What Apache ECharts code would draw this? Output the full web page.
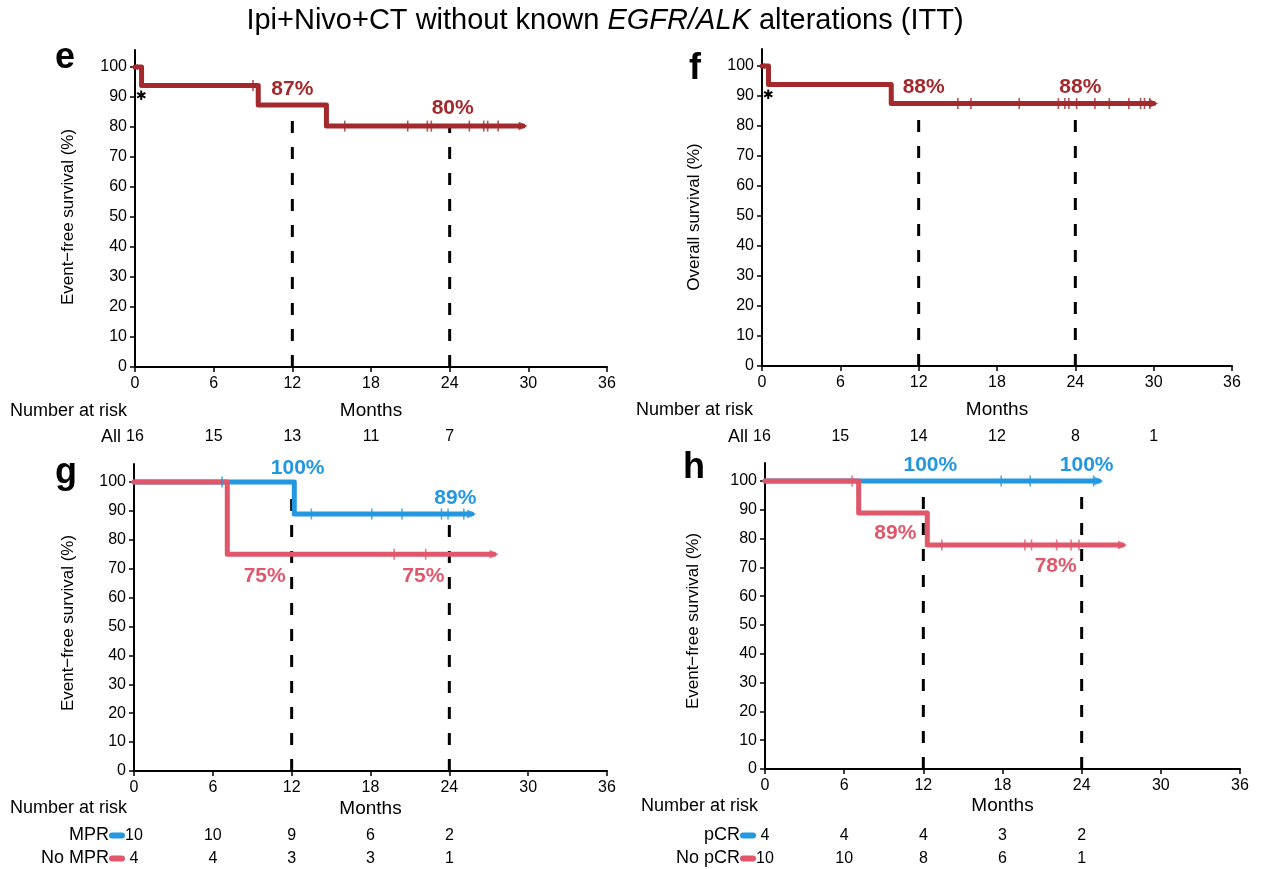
<!DOCTYPE html>
<html><head><meta charset="utf-8">
<script src="https://cdn.jsdelivr.net/npm/echarts@6/dist/echarts.min.js"></script>
<style>html,body{margin:0;padding:0;background:#fff}#c{width:1263px;height:869px}</style>
</head><body><div id="c"></div>
<script>
// ---------------- data ----------------
const monthTicks = [0, 6, 12, 18, 24, 30, 36];
const survTicks = [0, 10, 20, 30, 40, 50, 60, 70, 80, 90, 100];
const landmarks = [12, 24];

// e: EFS, all patients
const efsAllTimes = [0, 0.5, 9.4, 14.6, 29.6];
const efsAllSurv = [100, 93.8, 87.3, 80.3, 80.3];
const efsAllCensor = [9.0, 16.0, 20.8, 22.3, 22.6, 25.5, 26.6, 26.9, 27.7];
// f: OS, all patients
const osAllTimes = [0, 0.5, 9.9, 30.0];
const osAllSurv = [100, 93.8, 87.5, 87.5];
const osAllCensor = [15.0, 16.0, 19.7, 22.7, 23.2, 23.5, 24.1, 25.5, 26.6, 28.1, 29.0, 29.3, 29.7];
// g: EFS by MPR
const mprTimes = [0, 12.2, 25.7];
const mprSurv = [100, 88.9, 88.9];
const mprCensor = [6.7, 13.5, 18.1, 20.4, 23.4, 23.9, 25.1];
const noMprTimes = [0, 7.1, 27.4];
const noMprSurv = [100, 75, 75];
const noMprCensor = [19.8, 22.2];
// h: EFS by pCR
const pcrTimes = [0, 25.3];
const pcrSurv = [100, 100];
const pcrCensor = [17.9, 20.1, 24.9];
const noPcrTimes = [0, 7.1, 12.3, 27.1];
const noPcrSurv = [100, 88.9, 77.8, 77.8];
const noPcrCensor = [6.6, 13.4, 19.7, 20.2, 22.1, 23.2, 23.8];

// landmark percentage labels (at 12 and 24 months)
const pctEfsAll = ['87%', '80%'];
const pctOsAll = ['88%', '88%'];
const pctMpr = ['100%', '89%'];
const pctNoMpr = ['75%', '75%'];
const pctPcr = ['100%', '100%'];
const pctNoPcr = ['89%', '78%'];

// numbers at risk
const riskMonths = [0, 6, 12, 18, 24, 30];
const riskAllEfs = [16, 15, 13, 11, 7];
const riskAllOs = [16, 15, 14, 12, 8, 1];
const riskMpr = [10, 10, 9, 6, 2];
const riskNoMpr = [4, 4, 3, 3, 1];
const riskPcr = [4, 4, 4, 3, 2];
const riskNoPcr = [10, 10, 8, 6, 1];

// first-event asterisk mark
const asteriskPoint = [0.5, 90];

// ---------------- styling / layout ----------------
const F = '"Liberation Sans", Arial, Helvetica, sans-serif';
const C_DARK = '#a3292c', C_BLUE = '#2398e0', C_PINK = '#e0566b';

function stepAt(times, surv, t) {
  let v = surv[0];
  for (let i = 0; i < times.length; i++) if (times[i] <= t) v = surv[i];
  return v;
}

const panels = [
  { letter: 'e', letterPos: [55, 58], grid: { left: 135, top: 50, width: 472, height: 317 }, ymax: 105.67, nameGap: 34,
    riskGrid: { left: 135, top: 426, width: 472, height: 22 }, narPos: [10, 411],
    yname: 'Event\u2212free survival (%)', ynamePos: [68, 217], dashTops: [84, 80.3], asterisk: true, startMark: true,
    curves: [{ times: efsAllTimes, surv: efsAllSurv, censor: efsAllCensor, color: C_DARK, pct: pctEfsAll, off: [[0, -16], [3, -18]] }],
    risk: [{ name: 'All', values: riskAllEfs }] },
  { letter: 'f', letterPos: [689, 69], grid: { left: 762, top: 49, width: 470, height: 317 }, ymax: 105.67, nameGap: 34,
    riskGrid: { left: 762, top: 426, width: 470, height: 22 }, narPos: [636, 410],
    yname: 'Overall survival (%)', ynamePos: [694, 217], dashTops: [83.5, 83.5], asterisk: true, startMark: true,
    curves: [{ times: osAllTimes, surv: osAllSurv, censor: osAllCensor, color: C_DARK, pct: pctOsAll, off: [[5, -16], [5, -16]] }],
    risk: [{ name: 'All', values: riskAllOs }] },
  { letter: 'g', letterPos: [55, 473], grid: { left: 134, top: 464, width: 473, height: 307 }, ymax: 106.2, nameGap: 28,
    riskGrid: { left: 134, top: 824, width: 473, height: 46 }, narPos: [10, 808],
    yname: 'Event\u2212free survival (%)', ynamePos: [68, 623], dashTops: [97, 87],
    curves: [
      { times: mprTimes, surv: mprSurv, censor: mprCensor, color: C_BLUE, pct: pctMpr, off: [[6, -14], [6, -16]] },
      { times: noMprTimes, surv: noMprSurv, censor: noMprCensor, color: C_PINK, pct: pctNoMpr, off: [[-27, 22], [-26, 22]] }],
    risk: [{ name: 'MPR', values: riskMpr, color: C_BLUE }, { name: 'No MPR', values: riskNoMpr, color: C_PINK }] },
  { letter: 'h', letterPos: [683, 468], grid: { left: 765, top: 463, width: 475, height: 306 }, ymax: 106.25, nameGap: 27,
    riskGrid: { left: 765, top: 824, width: 475, height: 46 }, narPos: [641, 806],
    yname: 'Event\u2212free survival (%)', ynamePos: [693, 621], dashTops: [97, 97],
    curves: [
      { times: pcrTimes, surv: pcrSurv, censor: pcrCensor, color: C_BLUE, pct: pctPcr, off: [[7, -16], [5, -16]] },
      { times: noPcrTimes, surv: noPcrSurv, censor: noPcrCensor, color: C_PINK, pct: pctNoPcr, off: [[-28, 20], [-26, 21]] }],
    risk: [{ name: 'pCR', values: riskPcr, color: C_BLUE }, { name: 'No pCR', values: riskNoPcr, color: C_PINK }] }
];

// text placed at data coordinates through the axes (custom series)
function textSeries(xi, yi, points, texts, offsets, font, color, z) {
  return { type: 'custom', xAxisIndex: xi, yAxisIndex: yi, z: z || 6, silent: true, clip: false,
    data: points,
    renderItem: (params, api) => {
      const i = params.dataIndex;
      const pt = api.coord([api.value(0), api.value(1)]);
      const o = offsets ? offsets[i] : [0, 0];
      return { type: 'text', x: pt[0] + o[0], y: pt[1] + o[1],
        style: { text: texts[i], font: font, fill: color, align: 'center', verticalAlign: 'middle',
          textAlign: 'center', textVerticalAlign: 'middle' } };
    } };
}

const grid = [], xAxis = [], yAxis = [], series = [], graphic = [];

graphic.push({ type: 'text', x: 605, y: 21, z: 10,
  style: { text: '{n|Ipi+Nivo+CT without known }{i|EGFR/ALK}{n| alterations (ITT)}',
    rich: { n: { fontSize: 29, fontFamily: F, fill: '#000' }, i: { fontSize: 29, fontFamily: F, fontStyle: 'italic', fill: '#000' } },
    align: 'center', verticalAlign: 'middle', textAlign: 'center', textVerticalAlign: 'middle' } });

panels.forEach((p) => {
  const gi = grid.length;
  grid.push(Object.assign({ outerBoundsMode: 'none', containLabel: false }, p.grid));
  grid.push(Object.assign({ outerBoundsMode: 'none', containLabel: false }, p.riskGrid));
  const xi = xAxis.length, yi = yAxis.length;
  xAxis.push({ type: 'value', gridIndex: gi, min: 0, max: 36, interval: 6,
    axisLine: { onZero: false, lineStyle: { color: '#000', width: 2 } },
    axisTick: { length: 5, lineStyle: { color: '#000', width: 1.5 } },
    axisLabel: { fontSize: 16, fontFamily: F, color: '#000', margin: 9 },
    splitLine: { show: false },
    name: 'Months', nameLocation: 'middle', nameGap: p.nameGap,
    nameTextStyle: { fontSize: 19, fontFamily: F, color: '#000' } });
  yAxis.push({ type: 'value', gridIndex: gi, min: 0, max: p.ymax,
    axisLine: { onZero: false, lineStyle: { color: '#000', width: 2 } },
    axisTick: { length: 5, customValues: survTicks, lineStyle: { color: '#000', width: 1.5 } },
    axisLabel: { fontSize: 16, fontFamily: F, color: '#000', margin: 8, customValues: survTicks },
    splitLine: { show: false } });
  // risk table axes
  xAxis.push({ type: 'value', gridIndex: gi + 1, min: 0, max: 36, show: false });
  const rich = { t: { fontSize: 18, fontFamily: F, color: '#000' } };
  p.risk.forEach((r, ri) => { if (r.color) rich['b' + ri] = { width: 16, height: 6, borderRadius: 3, backgroundColor: r.color }; });
  yAxis.push({ type: 'category', gridIndex: gi + 1, inverse: true, data: p.risk.map(r => r.name),
    axisLine: { show: false }, axisTick: { show: false }, splitLine: { show: false },
    axisLabel: { margin: p.risk[0].color ? 9 : 14, rich: rich,
      formatter: (v, idx) => p.risk[idx].color ? '{t|' + v + '}{b' + idx + '|}' : '{t|' + v + '}' } });

  // dashed landmark lines
  landmarks.forEach((m, li) => {
    series.push({ type: 'line', xAxisIndex: xi, yAxisIndex: yi, z: 1, silent: true, symbol: 'none',
      data: [[m, 0], [m, p.dashTops[li]]],
      lineStyle: { color: '#000', width: 3, type: [12, 14] } });
  });
  // curves
  p.curves.forEach((c, ci) => {
    series.push({ type: 'line', xAxisIndex: xi, yAxisIndex: yi, z: 2 + ci, step: 'end', symbol: 'none', silent: true,
      data: c.times.map((t, i) => [t, c.surv[i]]),
      lineStyle: { color: c.color, width: 5, cap: 'round', join: 'round' } });
  });
  p.curves.forEach((c) => {
    // censor ticks
    series.push({ type: 'scatter', xAxisIndex: xi, yAxisIndex: yi, z: 5, silent: true,
      symbol: 'rect', symbolSize: [1.6, 11], itemStyle: { color: c.color },
      data: c.censor.map(t => [t, stepAt(c.times, c.surv, t)]) });
    // end arrow
    const last = c.times.length - 1;
    series.push({ type: 'scatter', xAxisIndex: xi, yAxisIndex: yi, z: 5, silent: true, clip: false,
      symbol: 'triangle', symbolSize: [9, 9], symbolRotate: -90, itemStyle: { color: c.color },
      data: [[c.times[last], c.surv[last]]] });
    // landmark percentages
    series.push(textSeries(xi, yi, landmarks.map(m => [m, stepAt(c.times, c.surv, m)]), c.pct, c.off,
      'bold 21px ' + F, c.color, 6));
  });
  if (p.startMark) {
    series.push({ type: 'scatter', xAxisIndex: xi, yAxisIndex: yi, z: 5, silent: true, clip: false,
      symbol: 'triangle', symbolSize: [6, 6], symbolRotate: 90, itemStyle: { color: p.curves[0].color },
      data: [[0, 100]] });
  }
  if (p.asterisk) {
    series.push(textSeries(xi, yi, [asteriskPoint], ['\u2731'], null, '13px "DejaVu Sans", sans-serif', '#000', 6));
  }
  // numbers at risk
  p.risk.forEach((r, ri) => {
    series.push(textSeries(xi + 1, yi + 1, r.values.map((v, i) => [riskMonths[i], ri]), r.values.map(String), null,
      '16px ' + F, '#000', 6));
  });

  // texts
  graphic.push({ type: 'text', x: p.letterPos[0], y: p.letterPos[1],
    style: { text: p.letter, font: 'bold 36px ' + F, fill: '#000', align: 'left', verticalAlign: 'middle', textAlign: 'left', textVerticalAlign: 'middle' } });
  graphic.push({ type: 'text', x: p.ynamePos[0], y: p.ynamePos[1], rotation: Math.PI / 2,
    style: { text: p.yname, font: '17px ' + F, fill: '#000', align: 'center', verticalAlign: 'middle', textAlign: 'center', textVerticalAlign: 'middle' } });
  graphic.push({ type: 'text', x: p.narPos[0], y: p.narPos[1],
    style: { text: 'Number at risk', font: '18px ' + F, fill: '#000', align: 'left', verticalAlign: 'middle', textAlign: 'left', textVerticalAlign: 'middle' } });
});

const chart = echarts.init(document.getElementById('c'), null, { renderer: 'canvas' });
chart.setOption({ animation: false, backgroundColor: '#fff', textStyle: { fontFamily: F },
  grid, xAxis, yAxis, series, graphic });
</script>
</body></html>
